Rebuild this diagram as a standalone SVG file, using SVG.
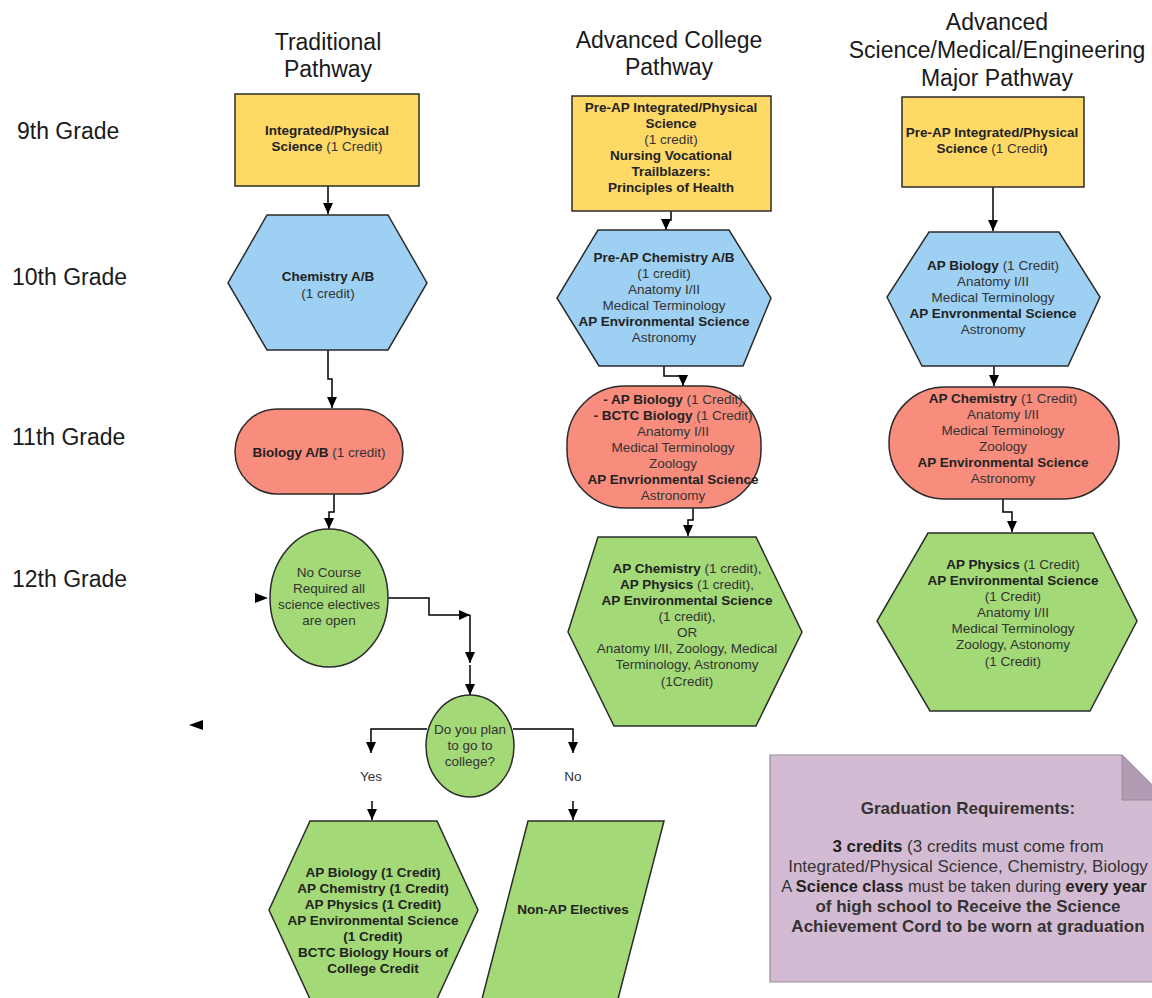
<svg xmlns="http://www.w3.org/2000/svg" width="1152" height="998" viewBox="0 0 1152 998">
<defs>
<marker id="arr" markerUnits="userSpaceOnUse" markerWidth="11" markerHeight="10" refX="11" refY="5" orient="auto">
<path d="M0,0 L11,5 L0,10 z" fill="#000"/>
</marker>
<style>
text{font-family:"Liberation Sans",Arial,sans-serif;fill:#222;}
.title{font-size:23px;fill:#1a1a1a;text-anchor:middle;}
.grade{font-size:23px;fill:#1a1a1a;}
.t{font-size:13.5px;text-anchor:middle;fill:#333;}
.b{font-weight:bold;fill:#222;}
.note{font-size:17px;text-anchor:middle;fill:#333;}
.node{stroke:#2b2b2b;stroke-width:1.5;}
.yellow{fill:#ffd966;}
.blue{fill:#9dd0f2;}
.red{fill:#f88d7e;}
.green{fill:#a3d977;}
.conn{fill:none;stroke:#000;stroke-width:1.5;}
.head{fill:#000;}
</style>
</defs>
<rect width="1152" height="998" fill="#fff"/>

<g id="titles">
<text class="title" x="328" y="50">Traditional</text>
<text class="title" x="328" y="77">Pathway</text>
<text class="title" x="669" y="48">Advanced College</text>
<text class="title" x="669" y="75">Pathway</text>
<text class="title" x="997" y="30">Advanced</text>
<text class="title" x="997" y="58">Science/Medical/Engineering</text>
<text class="title" x="997" y="86">Major Pathway</text>
</g>

<g id="grades">
<text class="grade" x="17" y="139">9th Grade</text>
<text class="grade" x="12" y="285">10th Grade</text>
<text class="grade" x="12" y="445">11th Grade</text>
<text class="grade" x="12" y="587">12th Grade</text>
</g>

<g id="connectors">
<path class="conn" d="M328,186 V214" marker-end="url(#arr)"/>
<path class="conn" d="M328,350 V379 H332 V408" marker-end="url(#arr)"/>
<path class="conn" d="M334,494 V512 H329 V529" marker-end="url(#arr)"/>
<polygon class="head" points="255,593 268,598 255,603"/>
<path class="conn" d="M388,598 H429 V615 H470" marker-end="url(#arr)"/>
<path class="conn" d="M470,615 V663" marker-end="url(#arr)"/>
<path class="conn" d="M470,665 V695" marker-end="url(#arr)"/>
<polygon class="head" points="189,725 203,720 203,730"/>
<path class="conn" d="M427,729 H371 V753" marker-end="url(#arr)"/>
<path class="conn" d="M372,801 V820" marker-end="url(#arr)"/>
<path class="conn" d="M513,729 H573 V753" marker-end="url(#arr)"/>
<path class="conn" d="M573,801 V820" marker-end="url(#arr)"/>
<path class="conn" d="M671,211 V220 H666 V230" marker-end="url(#arr)"/>
<path class="conn" d="M664,366 V376 H683 V386" marker-end="url(#arr)"/>
<path class="conn" d="M693,508 V520 H688 V536" marker-end="url(#arr)"/>
<path class="conn" d="M993,187 V231" marker-end="url(#arr)"/>
<path class="conn" d="M994,366 V386" marker-end="url(#arr)"/>
<path class="conn" d="M1003,499 V512 H1012 V532" marker-end="url(#arr)"/>
</g>

<g id="trad-9">
<rect class="node yellow" x="235" y="94" width="184" height="92"/>
<text class="t" x="327" y="135"><tspan class="b">Integrated/Physical</tspan></text>
<text class="t" x="327" y="151"><tspan class="b">Science</tspan> (1 Credit)</text>
</g>

<g id="trad-10">
<polygon class="node blue" points="267,215 388,215 427,283 388,350 267,350 228,283"/>
<text class="t" x="328" y="281"><tspan class="b">Chemistry A/B</tspan></text>
<text class="t" x="328" y="298">(1 credit)</text>
</g>

<g id="trad-11">
<rect class="node red" x="235" y="409" width="168" height="85" rx="42.5" ry="42.5"/>
<text class="t" x="319" y="457"><tspan class="b">Biology A/B</tspan> (1 credit)</text>
</g>

<g id="trad-12">
<ellipse class="node green" cx="329" cy="598" rx="59" ry="69"/>
<text class="t" x="329" y="577">No Course</text>
<text class="t" x="329" y="593">Required all</text>
<text class="t" x="329" y="609">science electives</text>
<text class="t" x="329" y="625">are open</text>
</g>

<g id="decision">
<ellipse class="node green" cx="470" cy="746" rx="44" ry="51"/>
<text class="t" x="470" y="734">Do you plan</text>
<text class="t" x="470" y="750">to go to</text>
<text class="t" x="470" y="766">college?</text>
</g>

<g id="labels">
<text class="t" x="371" y="781">Yes</text>
<text class="t" x="573" y="781">No</text>
</g>

<g id="yes-courses">
<polygon class="node green" points="310,821 437,821 478,910 437,999 310,999 269,910"/>
<text class="t b" x="373" y="877">AP Biology (1 Credit)</text>
<text class="t b" x="373" y="893">AP Chemistry (1 Credit)</text>
<text class="t b" x="373" y="909">AP Physics (1 Credit)</text>
<text class="t b" x="373" y="925">AP Environmental Science</text>
<text class="t b" x="373" y="941">(1 Credit)</text>
<text class="t b" x="373" y="957">BCTC Biology Hours of</text>
<text class="t b" x="373" y="973">College Credit</text>
</g>

<g id="no-courses">
<polygon class="node green" points="528,821 664,821 618,999 482,999"/>
<text class="t b" x="573" y="914">Non-AP Electives</text>
</g>

<g id="adv-9">
<rect class="node yellow" x="572" y="96" width="199" height="115"/>
<text class="t b" x="671" y="112">Pre-AP Integrated/Physical</text>
<text class="t b" x="671" y="128">Science</text>
<text class="t" x="671" y="144">(1 credit)</text>
<text class="t b" x="671" y="160">Nursing Vocational</text>
<text class="t b" x="671" y="176">Trailblazers:</text>
<text class="t b" x="671" y="192">Principles of Health</text>
</g>

<g id="adv-10">
<polygon class="node blue" points="598,230 729,230 771,298 743,366 599,366 557,298"/>
<text class="t b" x="664" y="262">Pre-AP Chemistry A/B</text>
<text class="t" x="664" y="278">(1 credit)</text>
<text class="t" x="664" y="294">Anatomy I/II</text>
<text class="t" x="664" y="310">Medical Terminology</text>
<text class="t b" x="664" y="326">AP Environmental Science</text>
<text class="t" x="664" y="342">Astronomy</text>
</g>

<g id="adv-11">
<rect class="node red" x="567" y="386" width="194" height="122" rx="58" ry="58"/>
<text class="t" x="673" y="404"><tspan class="b">- AP Biology</tspan> (1 Credit)</text>
<text class="t" x="673" y="420"><tspan class="b">- BCTC Biology</tspan> (1 Credit)</text>
<text class="t" x="673" y="436">Anatomy I/II</text>
<text class="t" x="673" y="452">Medical Terminology</text>
<text class="t" x="673" y="468">Zoology</text>
<text class="t b" x="673" y="484">AP Envrionmental Science</text>
<text class="t" x="673" y="500">Astronomy</text>
</g>

<g id="adv-12">
<polygon class="node green" points="598,537 756,537 802,632 756,726 614,726 568,632"/>
<text class="t" x="687" y="573"><tspan class="b">AP Chemistry</tspan> (1 credit),</text>
<text class="t" x="687" y="589"><tspan class="b">AP Physics</tspan> (1 credit),</text>
<text class="t b" x="687" y="605">AP Environmental Science</text>
<text class="t" x="687" y="621">(1 credit),</text>
<text class="t" x="687" y="637">OR</text>
<text class="t" x="687" y="653">Anatomy I/II, Zoology, Medical</text>
<text class="t" x="687" y="669">Terminology, Astronomy</text>
<text class="t" x="687" y="686">(1Credit)</text>
</g>

<g id="sci-9">
<rect class="node yellow" x="902" y="97" width="182" height="90"/>
<text class="t b" x="992" y="137">Pre-AP Integrated/Physical</text>
<text class="t" x="992" y="153"><tspan class="b">Science</tspan> (1 Credit<tspan class="b">)</tspan></text>
</g>

<g id="sci-10">
<polygon class="node blue" points="929,232 1059,232 1100,297 1068,366 922,366 887,297"/>
<text class="t" x="993" y="270"><tspan class="b">AP Biology</tspan> (1 Credit)</text>
<text class="t" x="993" y="286">Anatomy I/II</text>
<text class="t" x="993" y="302">Medical Terminology</text>
<text class="t b" x="993" y="318">AP Envronmental Science</text>
<text class="t" x="993" y="334">Astronomy</text>
</g>

<g id="sci-11">
<rect class="node red" x="889" y="387" width="230" height="112" rx="56" ry="56"/>
<text class="t" x="1003" y="403"><tspan class="b">AP Chemistry</tspan> (1 Credit)</text>
<text class="t" x="1003" y="419">Anatomy I/II</text>
<text class="t" x="1003" y="435">Medical Terminology</text>
<text class="t" x="1003" y="451">Zoology</text>
<text class="t b" x="1003" y="467">AP Environmental Science</text>
<text class="t" x="1003" y="483">Astronomy</text>
</g>

<g id="sci-12">
<polygon class="node green" points="928,533 1093,533 1137,621 1090,711 930,711 877,621"/>
<text class="t" x="1013" y="569"><tspan class="b">AP Physics</tspan> (1 Credit)</text>
<text class="t b" x="1013" y="585">AP Environmental Science</text>
<text class="t" x="1013" y="601">(1 Credit)</text>
<text class="t" x="1013" y="617">Anatomy I/II</text>
<text class="t" x="1013" y="633">Medical Terminology</text>
<text class="t" x="1013" y="649">Zoology, Astonomy</text>
<text class="t" x="1013" y="666">(1 Credit)</text>
</g>

<g id="graduation-note">
<path d="M770,755 H1122 L1167,800 V982 H770 Z" fill="#d3bcd3" stroke="#9a8a9a" stroke-width="1.2"/>
<polygon points="1122,755 1122,800 1167,800" fill="#b39cb3" stroke="#9a8a9a" stroke-width="1"/>
<text class="note b" x="968" y="814">Graduation Requirements:</text>
<text class="note" x="968" y="852"><tspan class="b">3 credits</tspan> (3 credits must come from</text>
<text class="note" x="968" y="872">Integrated/Physical Science, Chemistry, Biology</text>
<text class="note" x="964" y="892" style="font-size:16.4px">A <tspan class="b">Science class</tspan> must be taken during <tspan class="b">every year</tspan></text>
<text class="note b" x="968" y="912">of high school to Receive the Science</text>
<text class="note b" x="968" y="932">Achievement Cord to be worn at graduation</text>
</g>
</svg>
